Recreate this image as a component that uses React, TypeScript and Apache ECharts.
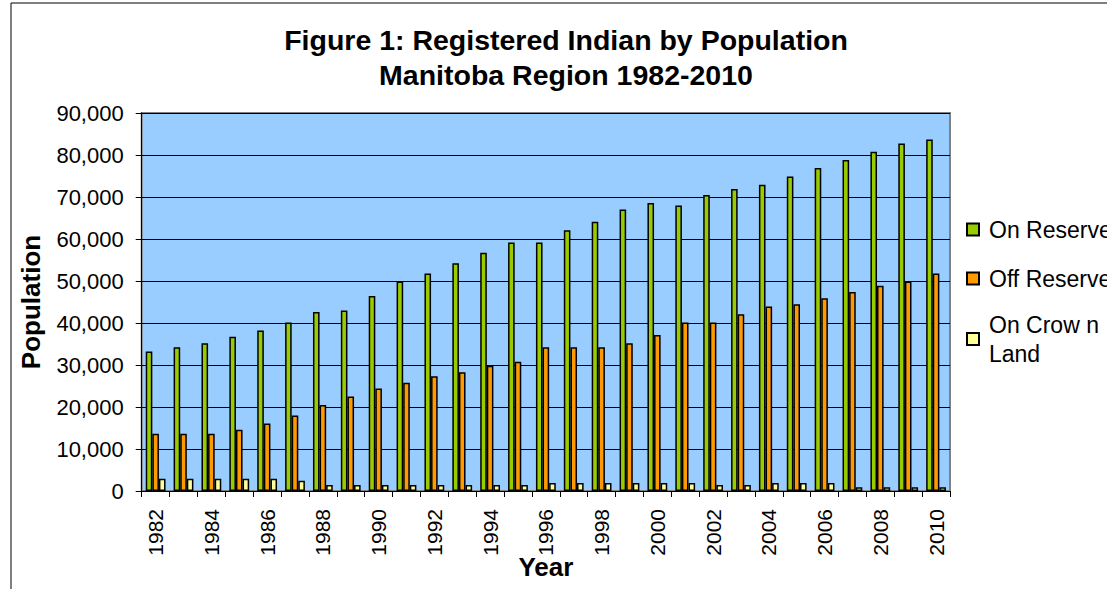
import React, { useEffect, useRef } from "react";
import * as echarts from "echarts";

const years = [
  "1982", "1983", "1984", "1985", "1986", "1987", "1988", "1989", "1990", "1991",
  "1992", "1993", "1994", "1995", "1996", "1997", "1998", "1999", "2000", "2001",
  "2002", "2003", "2004", "2005", "2006", "2007", "2008", "2009", "2010",
];
const onReserve = [
  33200, 34250, 35200, 36700, 38200, 40100, 42600, 43000, 46450, 49900,
  51800, 54250, 56700, 59150, 59150, 62100, 64100, 67000, 68550, 67980,
  70500, 71900, 72900, 74900, 76900, 78800, 80800, 82750, 83700,
];
const offReserve = [
  13650, 13650, 13650, 14600, 16100, 18000, 20500, 22500, 24400, 25800,
  27300, 28300, 29800, 30750, 34250, 34250, 34250, 35200, 37150, 40100,
  40100, 42100, 43900, 44480, 45900, 47400, 48850, 49870, 51780,
];
const onCrownLand = [
  2900, 2900, 2900, 2900, 2900, 2450, 1430, 1430, 1430, 1430,
  1430, 1430, 1430, 1430, 1900, 1900, 1900, 1900, 1900, 1900,
  1430, 1430, 1900, 1900, 1900, 880, 880, 880, 880,
];
const seriesNames = ["On Reserve", "Off Reserve", "On Crow n\nLand"];
const seriesColors = ["#99CC00", "#FF9900", "#FFFF99"];
const titleLines = ["Figure 1: Registered Indian by Population", "Manitoba Region 1982-2010"];

const FONT = 'Arial, "Liberation Sans", sans-serif';

export default function App() {
  const ref = useRef<HTMLDivElement>(null);
  useEffect(() => {
    if (!ref.current) return;
    const chart = echarts.init(ref.current, undefined, { renderer: "svg" });
    const values = [onReserve, offReserve, onCrownLand];
    chart.setOption({
      animation: false,
      backgroundColor: "#ffffff",
      textStyle: { fontFamily: FONT, color: "#000" },
      title: {
        text: titleLines.join("\n"),
        left: 566,
        top: 22,
        padding: 0,
        textAlign: "center",
        textStyle: { fontFamily: FONT, fontSize: 28.5, fontWeight: "bold", lineHeight: 35, color: "#000" },
      },
      legend: {
        orient: "vertical",
        left: 966,
        top: 215,
        padding: 0,
        itemWidth: 12,
        itemHeight: 12,
        itemGap: 20,
        icon: "rect",
        textStyle: { fontFamily: FONT, fontSize: 23, lineHeight: 29, color: "#000", padding: [0, 0, 0, 5] },
        data: seriesNames.map((n, i) =>
          i === 2 ? { name: n, textStyle: { padding: [0, 0, -29, 5] } } : { name: n }
        ),
      },
      graphic: [
        {
          type: "rect",
          shape: { x: 11, y: 3, width: 1300, height: 800 },
          style: { fill: "none", stroke: "#000", lineWidth: 1 },
          silent: true,
        },
      ],
      grid: {
        left: 141.7,
        top: 113,
        width: 808.3,
        height: 378,
        outerBoundsMode: "none",
        containLabel: false,
        show: true,
        backgroundColor: "#99CCFF",
        borderColor: "#808080",
        borderWidth: 2,
      },
      xAxis: {
        type: "category",
        data: years,
        name: "Year",
        nameLocation: "middle",
        nameGap: 63,
        nameMoveOverlap: false,
        nameTextStyle: { fontFamily: FONT, fontSize: 26, fontWeight: "bold", color: "#000" },
        axisLine: { show: true, lineStyle: { color: "#000", width: 1 } },
        axisTick: { show: true, interval: 0, length: 6, lineStyle: { color: "#000" } },
        axisLabel: {
          interval: 1,
          rotate: 90,
          margin: 18,
          fontFamily: FONT,
          fontSize: 21,
          color: "#000",
        },
      },
      yAxis: {
        type: "value",
        min: 0,
        max: 90000,
        interval: 10000,
        name: "Population",
        nameLocation: "middle",
        nameGap: 98,
        nameMoveOverlap: false,
        nameTextStyle: { fontFamily: FONT, fontSize: 26, fontWeight: "bold", color: "#000" },
        axisLine: { show: true, lineStyle: { color: "#000", width: 1 } },
        axisTick: { show: true, length: 6, lineStyle: { color: "#000" } },
        axisLabel: {
          margin: 18,
          fontFamily: FONT,
          fontSize: 22,
          color: "#000",
          formatter: (v: number) => v.toLocaleString("en-US"),
        },
        splitLine: { show: true, lineStyle: { color: "#000", width: 1 } },
      },
      series: seriesNames.map((n, i) => ({
        name: n,
        type: "bar",
        data: values[i],
        barWidth: 6.6,
        barGap: "0%",
        itemStyle: { color: seriesColors[i], borderColor: "#000", borderWidth: 1.5 },
      })),
    });
    return () => chart.dispose();
  }, []);
  return (
    <div
      ref={ref}
      style={{ position: "fixed", left: 0, top: 0, width: 1107, height: 589 }}
    />
  );
}
